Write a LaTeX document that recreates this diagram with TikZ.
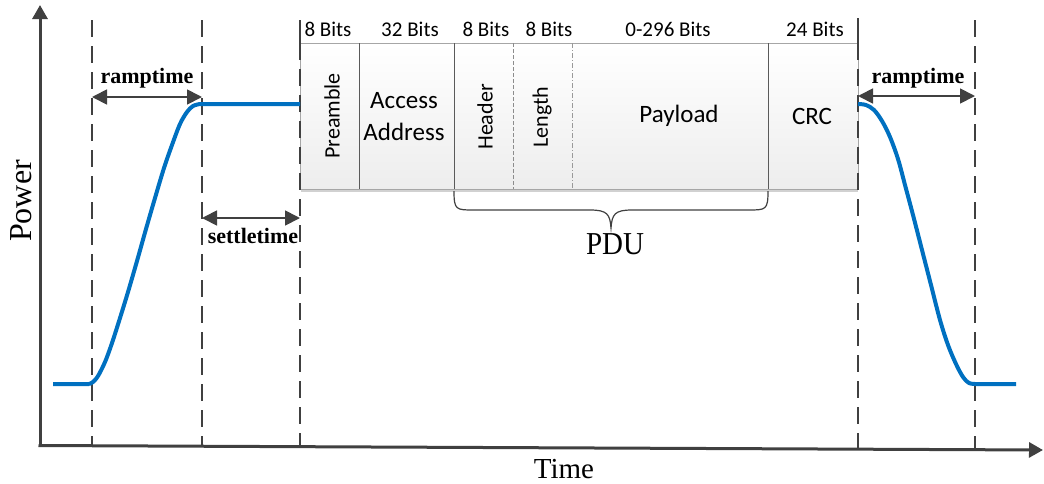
\documentclass[tikz,border=0pt]{standalone}
\usepackage{fontspec}
\setmainfont{Liberation Serif}
\newfontfamily\calib{Carlito}
\usetikzlibrary{arrows.meta}
\definecolor{axisgray}{HTML}{404040}
\definecolor{curveblue}{HTML}{0070C0}
\definecolor{framegray}{HTML}{A6A6A6}
\definecolor{divgray}{HTML}{5A5A5A}
\begin{document}
\begin{tikzpicture}[x=1pt,y=-1pt,
  guide/.style={axisgray, line width=1.1pt, dash pattern=on 17pt off 9pt},
  dimarrow/.style={axisgray, line width=1.8pt, {Triangle[length=15pt,width=15pt]}-{Triangle[length=15pt,width=15pt]}},
  dimlabel/.style={font=\fontsize{22}{26}\selectfont\bfseries},
  bits/.style={font=\calib\fontsize{21}{25}\selectfont, anchor=base, inner sep=0pt},
  field/.style={font=\calib\fontsize{25}{32}\selectfont, align=center, inner sep=0pt},
  rfield/.style={font=\calib\fontsize{22}{26}\selectfont, rotate=90, inner sep=0pt},
  powerline/.style={curveblue, line width=4pt, line join=round, line cap=butt},
  axis/.style={axisgray, line width=3pt, -{Triangle[length=14pt,width=15pt]}},
  serifbig/.style={font=\fontsize{29}{32}\selectfont, inner sep=0pt}
]
\useasboundingbox (0,0) rectangle (1044,483);

% frame
\fill[top color=white, bottom color=black!7] (300,43) rectangle (858,189);
\draw[black!18, line width=2pt] (301,191) -- (858,191);
\draw[framegray, line width=1pt] (300,43) rectangle (858,189);
\node[inner sep=0pt, minimum width=558pt, minimum height=146pt] (frame) at (579,116) {};

% dividers
\draw[divgray, line width=0.9pt] (359,43) -- (359,189);
\draw[divgray, line width=0.9pt] (454,43) -- (454,189);
\draw[black!45, line width=0.8pt, dash pattern=on 4pt off 2pt] (513,43) -- (513,189);
\draw[black!40, line width=0.6pt, dash pattern=on 5pt off 2pt on 1pt off 2pt] (572,43) -- (572,189);
\draw[divgray, line width=0.9pt] (768,43) -- (768,189);

% guide coordinates
\coordinate (g1t) at (92,20);   \coordinate (g1b) at (92,445);
\coordinate (g2t) at (202,20);  \coordinate (g2b) at (202,445);
\coordinate (g3t) at (300,20);  \coordinate (g3b) at (300,446);
\coordinate (g4t) at (858,18);  \coordinate (g4b) at (858,449);
\coordinate (g5t) at (975,20);  \coordinate (g5b) at (975,449);

% guides
\draw[guide] (g1t) -- (g1b);
\draw[guide] (g2t) -- (g2b);
\draw[axisgray, line width=1.1pt] (g3t) -- (300,43);
\draw[guide] (300,43) -- (g3b);
\draw[axisgray, line width=1.1pt] (g4t) -- (858,43);
\draw[guide] (858,43) -- (g4b);
\draw[guide] (g5t) -- (g5b);

% axes
\coordinate (origin) at (40,445.5);
\coordinate (ytip) at (40,5);
\coordinate (xtip) at (1043,450);
\draw[axis] (origin) -- (ytip);
\draw[axis] ([xshift=-1.5pt]origin) -- (xtip);

% power curves
\draw[powerline] (53,384) -- (89,384)
  plot[smooth, tension=0.55] coordinates {(89,384) (93,382) (98,376) (105,362) (112,343) (120,318) (128,292) (137,261) (146,229) (155,198) (164,168) (172,145) (180,124) (187,112) (193,106) (200,104)}
  -- (300,104);
\draw[powerline] (858,104)
  plot[smooth, tension=0.55] coordinates {(858,104) (866,105) (874,110) (882,121) (890,137) (898,159) (905,185) (913,215) (922,250) (931,285) (940,320) (948,345) (956,364) (963,377) (969,383) (976,384)}
  -- (1016,384);

% dimension arrows
\coordinate (r1a) at (92,97);  \coordinate (r1b) at (202,97);
\coordinate (s1a) at (202,218); \coordinate (s1b) at (300,218);
\coordinate (r2a) at (858,96); \coordinate (r2b) at (975,96);
\draw[dimarrow] (r1a) -- (r1b);
\draw[dimarrow] (s1a) -- (s1b);
\draw[dimarrow] (r2a) -- (r2b);
\node[dimlabel] (rl1) at (147,78) {ramptime};
\node[dimlabel] (sl1) at (253,236) {settletime};
\node[dimlabel] (rl2) at (918,78) {ramptime};

% bit labels
\node[bits] (b1) at (328,36) {8 Bits};
\node[bits] (b2) at (410,36) {32 Bits};
\node[bits] (b3) at (486,36) {8 Bits};
\node[bits] (b4) at (549,36) {8 Bits};
\node[bits] (b5) at (668,36) {0-296 Bits};
\node[bits] (b6) at (815,36) {24 Bits};

% field labels
\node[rfield] (pre) at (332,116) {Preamble};
\node[field] (acc) at (404,117) {Access\\Address};
\node[rfield] (hdr) at (485,117) {Header};
\node[rfield] (len) at (542,117) {Length};
\node[field] (pay) at (679,116) {Payload};
\node[field] (crc) at (812,116) {CRC};

% PDU brace
\draw[axisgray, line width=1.2pt]
  (454,191) .. controls (454,210) and (456,210) .. (474,210) -- (590,210)
  .. controls (607,210) and (610,214) .. (611,228)
  .. controls (612,214) and (615,210) .. (632,210) -- (748,210)
  .. controls (766,210) and (768,210) .. (768,191);
\node[serifbig, anchor=base] (pdu) at (615,254) {\scalebox{1}[1.1]{PDU}};

% axis labels
\node[serifbig, anchor=base] (tlabel) at (564,478) {Time};
\node[font=\fontsize{32}{36}\selectfont, inner sep=0pt, rotate=90] (plabel) at (21,201) {Power};
\end{tikzpicture}
\end{document}
